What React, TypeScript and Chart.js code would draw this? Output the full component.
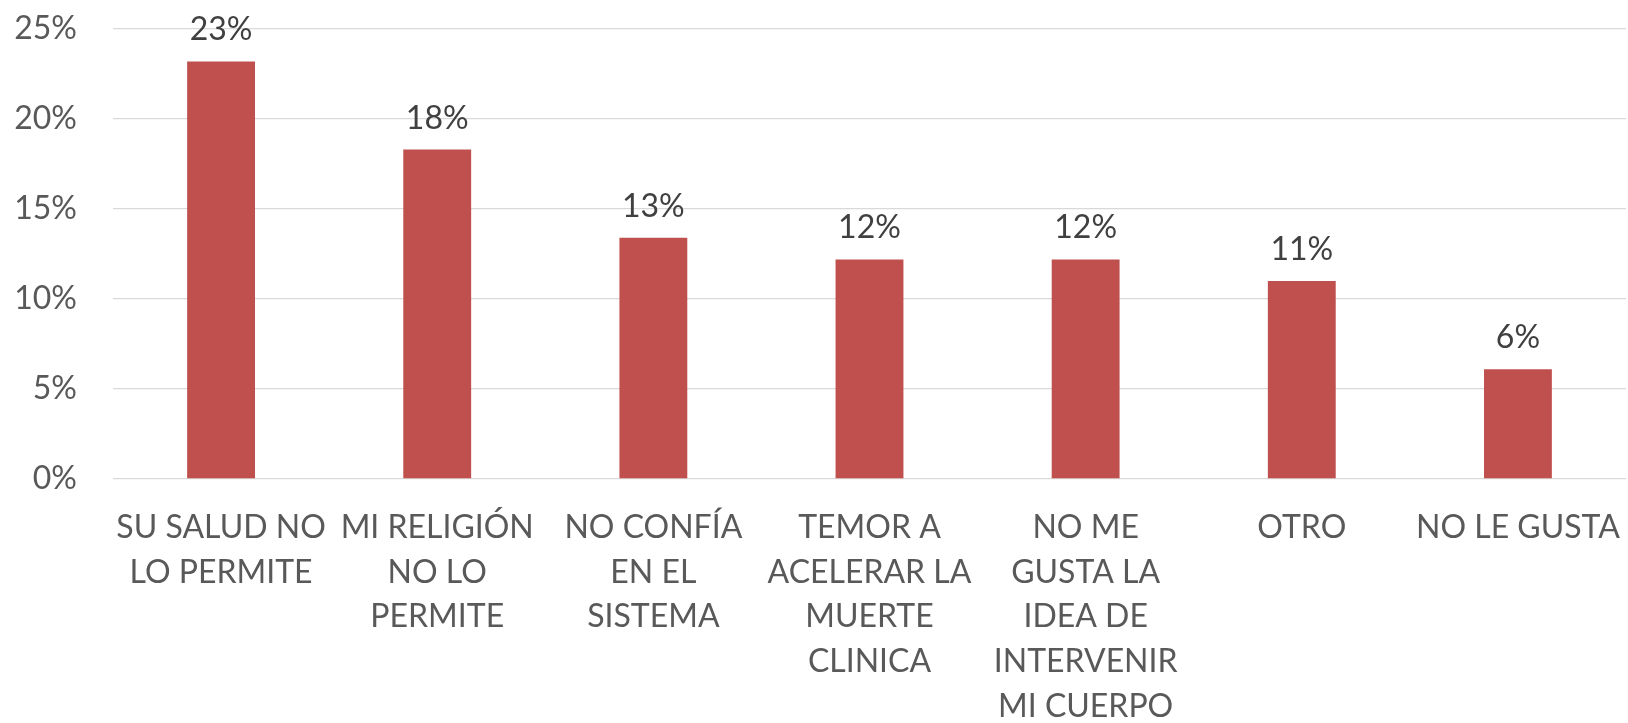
import React, { useEffect, useRef } from "react";
import { Chart, registerables } from "chart.js";

Chart.register(...registerables);

const categories: string[][] = [
  ["SU SALUD NO", "LO PERMITE"],
  ["MI RELIGIÓN", "NO LO", "PERMITE"],
  ["NO CONFÍA", "EN EL", "SISTEMA"],
  ["TEMOR A", "ACELERAR LA", "MUERTE", "CLINICA"],
  ["NO ME", "GUSTA LA", "IDEA DE", "INTERVENIR", "MI CUERPO"],
  ["OTRO"],
  ["NO LE GUSTA"],
];

const values: number[] = [23.2, 18.3, 13.4, 12.2, 12.2, 11.0, 6.1];
const valueLabels: string[] = ["23%", "18%", "13%", "12%", "12%", "11%", "6%"];
const yTicks: number[] = [0, 5, 10, 15, 20, 25];

const FONT = "Lato, 'Open Sans', sans-serif";

const dataLabelPlugin = {
  id: "dataLabels",
  afterDatasetsDraw(chart: any) {
    const ctx = chart.ctx;
    const meta = chart.getDatasetMeta(0);
    ctx.save();
    ctx.font = `32px ${FONT}`;
    ctx.fillStyle = "#404040";
    ctx.textAlign = "center";
    ctx.textBaseline = "alphabetic";
    meta.data.forEach((bar: any, i: number) => {
      ctx.fillText(valueLabels[i], bar.x, bar.y - 21);
    });
    ctx.restore();
  },
};

export default function App() {
  const ref = useRef<HTMLCanvasElement | null>(null);

  useEffect(() => {
    document.body.style.margin = "0";
    if (!ref.current) return;
    const chart = new Chart(ref.current, {
      type: "bar",
      data: {
        labels: categories,
        datasets: [
          {
            data: values,
            backgroundColor: "#C0504D",
            borderWidth: 0,
            barPercentage: 1,
            categoryPercentage: 0.314,
          },
        ],
      },
      options: {
        animation: false,
        responsive: true,
        maintainAspectRatio: false,
        layout: { padding: { top: 29, right: 2, left: 0, bottom: 0 } },
        plugins: {
          legend: { display: false },
          tooltip: { enabled: false },
        },
        scales: {
          x: {
            grid: { display: false, drawTicks: false },
            border: { display: false },
            ticks: {
              color: "#595959",
              font: { family: FONT, size: 32, lineHeight: 1.4 },
              padding: 26,
              maxRotation: 0,
              minRotation: 0,
              autoSkip: false,
            },
            afterFit: (scale: any) => {
              scale.height = 244;
              scale.paddingLeft = 0;
              scale.paddingRight = 0;
            },
          },
          y: {
            min: 0,
            max: 25,
            afterBuildTicks: (scale: any) => {
              scale.ticks = yTicks.map((v) => ({ value: v }));
            },
            grid: { color: "#D9D9D9", lineWidth: 1.3, drawTicks: false },
            border: { display: false },
            ticks: {
              color: "#595959",
              font: { family: FONT, size: 32 },
              padding: 36,
              callback: (v: any) => `${v}%`,
            },
            afterFit: (scale: any) => {
              scale.width = 113;
              scale.paddingTop = 0;
              scale.paddingBottom = 0;
            },
          },
        },
      },
      plugins: [dataLabelPlugin],
    });
    return () => chart.destroy();
  }, []);

  return (
    <div style={{ width: 1628, height: 723, position: "relative" }}>
      <canvas ref={ref} />
    </div>
  );
}
